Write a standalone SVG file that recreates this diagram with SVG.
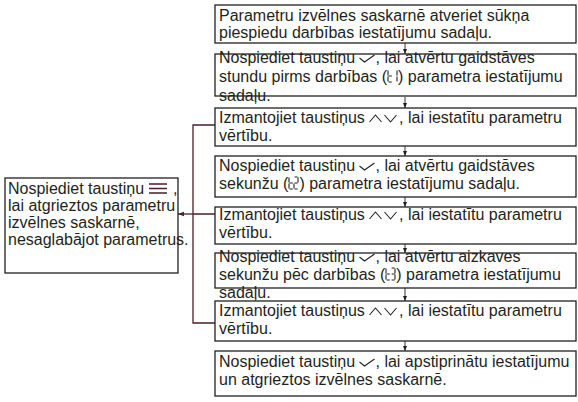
<svg xmlns="http://www.w3.org/2000/svg" width="578" height="402" viewBox="0 0 578 402">
<style>
text{font-family:"Liberation Sans",Arial,sans-serif;font-size:16px;fill:#231f20}
.box{fill:#fff;stroke:#231f20;stroke-width:1.3}
.ic{fill:none;stroke:#231f20;stroke-width:1.1}
.conn{fill:none;stroke:#231f20;stroke-width:0.9}
.lc{fill:none;stroke:#4a1f28;stroke-width:1.3}
</style>
<defs>
<marker id="ah" markerWidth="6" markerHeight="6" refX="5" refY="3" orient="auto" markerUnits="userSpaceOnUse"><path d="M0,1 L5,3 L0,5 z" fill="#231f20"/></marker>
<marker id="ahl" markerWidth="7" markerHeight="6" refX="6" refY="3" orient="auto" markerUnits="userSpaceOnUse"><path d="M0,0.8 L6,3 L0,5.2 z" fill="#4a1f28"/></marker>
<path id="chk" class="ic" d="M0,-5 L5,-1 L15,-8"/>
<path id="ud" class="ic" d="M0,-1 L6,-8 L12,-1 M15,-8 L21,-1 L27,-8"/>
<path id="t7" class="ic" d="M0,-11.5 V-6.5 M0,-5.5 V-0.5 M0.6,-6 H3.8 M0.6,0 H3.8"/>
<path id="d1" class="ic" d="M4,-11.5 V-6.5 M4,-5.5 V-0.5"/>
<path id="d2" class="ic" d="M0.6,-12 H3.6 M4,-11.5 V-6.5 M0.6,-6 H3.6 M0,-5.5 V-0.5 M0.6,0 H3.6"/>
<path id="d3" class="ic" d="M0.6,-12 H3.6 M4,-11.5 V-6.5 M0.6,-6 H3.6 M4,-5.5 V-0.5 M0.6,0 H3.6"/>
</defs>

<g id="connectors">
<line class="conn" x1="405" y1="43" x2="405" y2="54" marker-end="url(#ah)"/>
<line class="conn" x1="405" y1="97" x2="405" y2="108" marker-end="url(#ah)"/>
<line class="conn" x1="405" y1="146" x2="405" y2="156" marker-end="url(#ah)"/>
<line class="conn" x1="405" y1="197" x2="405" y2="207" marker-end="url(#ah)"/>
<line class="conn" x1="405" y1="244" x2="405" y2="253" marker-end="url(#ah)"/>
<line class="conn" x1="405" y1="288" x2="405" y2="301" marker-end="url(#ah)"/>
<line class="conn" x1="405" y1="341" x2="405" y2="351" marker-end="url(#ah)"/>
<path class="lc" d="M215,125 H193 V323 H215 M193,214 H215"/>
<line class="lc" x1="193" y1="214" x2="178" y2="214" marker-end="url(#ahl)"/>
</g>

<g id="n1">
<rect class="box" x="215" y="5" width="361" height="38"/>
<text x="219" y="21">Parametru izvēlnes saskarnē atveriet sūkņa</text>
<text x="219" y="38">piespiedu darbības iestatījumu sadaļu.</text>
</g>

<g id="n2">
<rect class="box" x="215" y="54" width="361" height="42"/>
<text x="219" y="63">Nospiediet taustiņu<tspan dx="20.4">, lai atvērtu gaidstāves</tspan></text>
<use href="#chk" x="359.5" y="63"/>
<text x="219" y="82">stundu pirms darbības (<tspan dx="11">) parametra iestatījumu</tspan></text>
<use href="#t7" x="388" y="82"/><use href="#d1" x="393" y="82"/>
<text x="219" y="101">sadaļu.</text>
</g>

<g id="n3">
<rect class="box" x="215" y="108" width="361" height="38"/>
<text x="219" y="123">Izmantojiet taustiņus<tspan dx="34.2">, lai iestatītu parametru</tspan></text>
<use href="#ud" x="369.5" y="123"/>
<text x="219" y="141">vērtību.</text>
</g>

<g id="n4">
<rect class="box" x="215" y="156" width="361" height="41"/>
<text x="219" y="171">Nospiediet taustiņu<tspan dx="20.4">, lai atvērtu gaidstāves</tspan></text>
<use href="#chk" x="359.5" y="171"/>
<text x="219" y="189">sekunžu (<tspan dx="11">) parametra iestatījumu sadaļu.</tspan></text>
<use href="#t7" x="289" y="189"/><use href="#d2" x="294" y="189"/>
</g>

<g id="n5">
<rect class="box" x="215" y="207" width="361" height="37"/>
<text x="219" y="220">Izmantojiet taustiņus<tspan dx="34.2">, lai iestatītu parametru</tspan></text>
<use href="#ud" x="369.5" y="220"/>
<text x="219" y="238">vērtību.</text>
</g>

<g id="n6">
<rect class="box" x="215" y="253" width="361" height="35"/>
<text x="219" y="262">Nospiediet taustiņu<tspan dx="20.4">, lai atvērtu aizkaves</tspan></text>
<use href="#chk" x="359.5" y="262"/>
<text x="219" y="280">sekunžu pēc darbības (<tspan dx="11">) parametra iestatījumu</tspan></text>
<use href="#t7" x="386" y="280"/><use href="#d3" x="391" y="280"/>
<text x="219" y="298">sadaļu.</text>
</g>

<g id="n7">
<rect class="box" x="215" y="301" width="361" height="40"/>
<text x="219" y="316">Izmantojiet taustiņus<tspan dx="34.2">, lai iestatītu parametru</tspan></text>
<use href="#ud" x="369.5" y="316"/>
<text x="219" y="334">vērtību.</text>
</g>

<g id="n8">
<rect class="box" x="215" y="351" width="361" height="45"/>
<text x="219" y="367">Nospiediet taustiņu<tspan dx="20.4">, lai apstiprinātu iestatījumu</tspan></text>
<use href="#chk" x="359.5" y="367"/>
<text x="219" y="385">un atgrieztos izvēlnes saskarnē.</text>
</g>

<g id="left">
<rect class="box" x="5" y="178" width="173" height="95"/>
<text x="8" y="194">Nospiediet taustiņu<tspan dx="29">,</tspan></text>
<path d="M149,184 H167 M149,188.5 H167 M149,193 H167" stroke="#4a1f28" stroke-width="1.6"/>
<text x="8" y="211">lai atgrieztos parametru</text>
<text x="8" y="228">izvēlnes saskarnē,</text>
<text x="8" y="245">nesaglabājot parametrus.</text>
</g>
</svg>
